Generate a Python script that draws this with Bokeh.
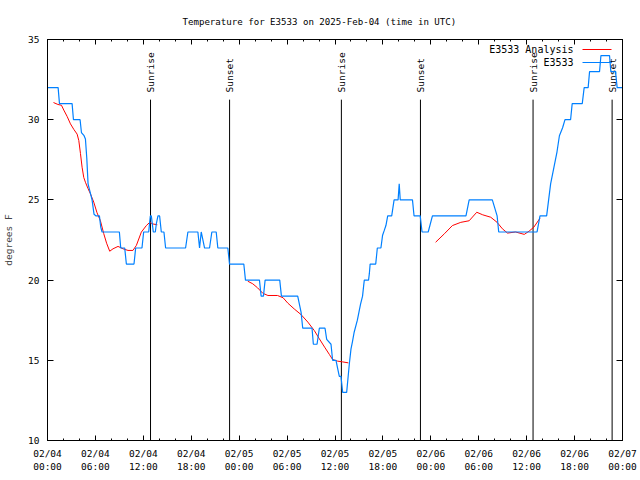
import math
from bokeh.plotting import figure
from bokeh.models import FixedTicker, LinearAxis, Range1d, Label, Arrow
from bokeh.core.properties import value
from bokeh.embed import file_html
from bokeh.resources import INLINE

FONT = "DejaVu Sans Mono"
FS = "9.5px"

# ---- data (x = hours since 2025-02-04 00:00 UTC) ----
obs_hours = [0.0, 1.33, 1.5, 3.08, 3.25, 4.08, 4.25, 4.58, 4.75, 4.92, 5.08, 5.33, 5.58, 5.83, 6.08, 6.5,
             6.67, 6.83, 9.0, 9.17, 9.67, 9.875, 10.83, 11.04, 11.83, 12.04, 12.67, 12.875, 13.0, 13.25,
             13.5, 13.625, 13.83, 14.04, 14.25, 14.58, 14.79, 17.29, 17.58, 18.83, 19.04, 19.25, 19.67,
             20.29, 20.58, 21.125, 21.33, 22.58, 22.79, 24.58, 24.79, 26.54, 26.75, 27.04, 27.25, 29.08,
             29.29, 31.33, 31.75, 31.96, 33.125, 33.29, 33.75, 34.04, 34.75, 34.96, 35.5, 35.7, 36.125,
             36.33, 36.54, 36.75, 36.96, 37.46, 37.8, 38.0, 38.2, 38.4, 38.8, 39.0, 39.2, 39.45, 39.6,
             39.67, 40.2, 40.3, 40.4, 41.1, 41.2, 41.3, 41.75, 41.96, 42.17, 42.375, 42.6, 43.1, 43.4,
             43.9, 44.04, 44.17, 45.7, 45.9, 46.67, 46.9, 47.67, 48.2, 52.4, 52.8, 55.7, 56.3, 56.5,
             61.3, 61.67, 62.5, 62.75, 63.0, 63.4, 63.8, 64.1, 64.5, 64.8, 65.5, 65.7, 66.96, 67.2,
             67.7, 67.875, 69.125, 69.3, 70.375, 70.54, 71.125, 71.33, 72.0]
obs_temp = [32, 32, 31, 31, 30, 30, 29.2, 29, 28.8, 27.6, 26, 25.5, 25, 24.1, 24, 24,
            23.3, 23, 23, 22, 22, 21, 21, 22, 22, 23, 23, 24, 24, 23,
            23, 23.5, 24, 24, 23, 23, 22, 22, 23, 23, 22, 23, 22,
            22, 23, 23, 22, 22, 21, 21, 20, 20, 19, 19, 20, 20,
            19, 19, 18, 17, 17, 16, 16, 17, 17, 16.3, 16, 15, 15,
            14.5, 14, 14, 13, 13, 14.8, 15.7, 16.2, 16.75, 17.5, 18, 18.5, 19, 19.7,
            20, 20, 20.4, 21, 21, 21.5, 22, 22, 22.8, 23.1, 23.4, 24, 24, 25,
            25, 26, 25, 25, 24, 24, 23, 23, 24, 24, 25, 25, 24, 23,
            23, 24, 24, 25, 26, 27, 28, 29, 29.5, 30, 30, 31, 31, 32,
            32, 33, 33, 34, 34, 33, 33, 32, 32]

nan = float("nan")
ana_hours = [0.75, 1.3, 1.75, 2.04, 2.46, 2.875, 3.29, 3.71, 3.92, 4.125, 4.33, 4.54, 4.75, 5.08, 5.375,
             5.79, 6.2, 6.625, 7.04, 7.4, 7.79, 8.2, 8.83, 9.46, 10.08, 10.7, 11.125, 11.75, 12.375,
             12.8, 13.2, 13.75,
             nan,
             25.08, 25.7, 26.3, 26.96, 27.6, 28.8, 29.5, 30.1, 30.9, 31.75, 32.6, 33.4, 34.04, 34.7,
             35.3, 35.7, 36.3, 36.96, 37.67,
             nan,
             48.6, 49.7, 50.7, 51.75, 52.8, 53.75, 54.5, 55.5, 56.3, 56.96, 57.6, 58.6, 59.7, 60.3,
             60.9, 61.67]
ana_temp = [31.07, 30.95, 30.9, 30.6, 30.2, 29.74, 29.4, 29.1, 28.7, 27.9, 27.04, 26.4, 26.1, 25.7, 25.38,
            24.86, 24.2, 23.7, 22.9, 22.3, 21.8, 21.95, 22.1, 21.95, 21.85, 21.85, 22.16, 22.99, 23.4,
            23.6, 23.5, 23.45,
            nan,
            19.93, 19.77, 19.52, 19.18, 19.04, 19.04, 18.9, 18.56, 18.2, 17.85, 17.38, 16.86, 16.34, 15.82,
            15.36, 15.05, 14.95, 14.9, 14.84,
            nan,
            22.36, 22.89, 23.4, 23.6, 23.7, 24.23, 24.07, 23.92, 23.6, 23.2, 22.93, 23.0, 22.85, 23.05,
            23.3, 23.86]

event_hours = [12.9, 22.8, 36.8, 46.7, 60.8, 70.7]
event_names = ["Sunrise", "Sunset", "Sunrise", "Sunset", "Sunrise", "Sunset"]

x_ticks = [0, 6, 12, 18, 24, 30, 36, 42, 48, 54, 60, 66, 72]
x_minor = list(range(0, 73, 2))
x_tick_labels = ["02/04\n00:00", "02/04\n06:00", "02/04\n12:00", "02/04\n18:00",
                 "02/05\n00:00", "02/05\n06:00", "02/05\n12:00", "02/05\n18:00",
                 "02/06\n00:00", "02/06\n06:00", "02/06\n12:00", "02/06\n18:00",
                 "02/07\n00:00"]
y_ticks = [10, 15, 20, 25, 30, 35]

title_text = "Temperature for E3533 on 2025-Feb-04 (time in UTC)"
y_label = "degrees F"
ana_label = "E3533 Analysis"
obs_label = "E3533"

RED = "#ff0000"
BLUE = "#0080ff"

p = figure(width=640, height=480, x_range=Range1d(0, 72), y_range=Range1d(10, 35),
           output_backend="svg", toolbar_location=None,
           min_border_left=46, min_border_right=18, min_border_top=39, min_border_bottom=40)
p.xgrid.visible = False
p.ygrid.visible = False
p.outline_line_color = "black"
p.outline_line_width = 1
p.background_fill_color = "white"
p.border_fill_color = "white"

p.title.text = title_text
p.title.align = "left"
p.title.offset = 135
p.title.standoff = 26
p.title.text_font = FONT
p.title.text_font_size = "9.1px"
p.title.text_font_style = "normal"
p.title.text_color = "black"

def style_axis(ax, ticker, show_labels):
    ax.ticker = ticker
    ax.axis_line_color = "black"
    ax.major_tick_line_color = "black"
    ax.minor_tick_line_color = "black"
    ax.major_tick_in = 5
    ax.major_tick_out = 0
    ax.minor_tick_in = 2
    ax.minor_tick_out = 0
    ax.major_label_text_font = FONT
    ax.major_label_text_font_size = FS
    ax.major_label_text_color = "black"
    if not show_labels:
        ax.major_label_overrides = {t: "" for t in ticker.ticks}
        ax.major_label_standoff = 0

xt = FixedTicker(ticks=x_ticks, minor_ticks=x_minor)
yt = FixedTicker(ticks=y_ticks, minor_ticks=[])

style_axis(p.xaxis[0], xt, True)
p.xaxis[0].major_label_overrides = {t: l for t, l in zip(x_ticks, x_tick_labels)}
p.xaxis[0].major_label_standoff = 7
style_axis(p.yaxis[0], yt, True)
p.yaxis[0].major_tick_in = 6
p.yaxis[0].major_label_standoff = 8
p.yaxis[0].axis_label = y_label
p.yaxis[0].axis_label_text_font = FONT
p.yaxis[0].axis_label_text_font_size = FS
p.yaxis[0].axis_label_text_font_style = "normal"
p.yaxis[0].axis_label_standoff = 11

top_ax = LinearAxis()
style_axis(top_ax, xt, False)
p.add_layout(top_ax, "above")
right_ax = LinearAxis()
style_axis(right_ax, yt, False)
right_ax.major_tick_in = 6
p.add_layout(right_ax, "right")

# sunrise / sunset markers
n = len(event_hours)
p.segment(x0=event_hours, y0=[10] * n, x1=event_hours, y1=[31.25] * n,
          line_color="black", line_width=1)
p.text(x=event_hours, y=[31.7] * n, text=event_names, angle=math.pi / 2,
       text_align="left", text_baseline="middle", text_font=value(FONT),
       text_font_size=FS, text_color="black")

# series
p.line(ana_hours, ana_temp, line_color=RED, line_width=1)
p.line(obs_hours, obs_temp, line_color=BLUE, line_width=1.2)

# legend (gnuplot style: text then sample)
for i, (lbl, col) in enumerate([(ana_label, RED), (obs_label, BLUE)]):
    yy = 391 - i * 13
    p.add_layout(Label(x=526, y=yy, x_units="screen", y_units="screen", text=lbl,
                       text_align="right", text_baseline="middle", text_font=FONT,
                       text_font_size="10px", text_color="black"))
    p.add_layout(Arrow(end=None, x_start=535, y_start=yy, x_end=564, y_end=yy,
                       start_units="screen", end_units="screen", line_color=col, line_width=1))

open("out.html", "w").write(file_html(p, INLINE))
